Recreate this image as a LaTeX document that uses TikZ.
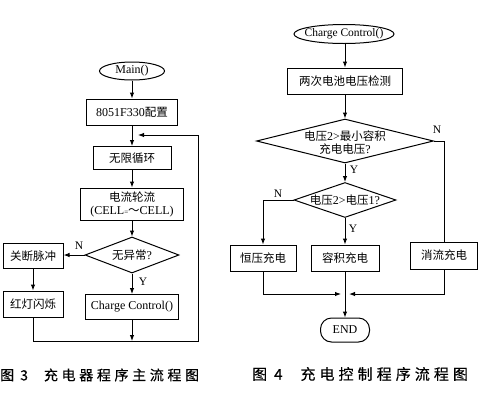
\documentclass[tikz,border=0pt]{standalone}
\usepackage{fontspec}
\setmainfont{Liberation Serif}
\newfontfamily\cjk{Noto Sans CJK SC}
\newfontfamily\capa[LetterSpace=26,FakeBold=0.4]{Noto Sans CJK SC}
\newfontfamily\capb[LetterSpace=27,FakeBold=0.4]{Noto Sans CJK SC}
\usetikzlibrary{shapes.geometric,arrows.meta}
\tikzset{
  box/.style={draw, rectangle, line width=1pt, inner sep=1pt, font=\fontsize{12}{14}\selectfont},
  dia/.style={draw, diamond, line width=1pt, inner sep=0pt},
  term/.style={draw, ellipse, line width=1pt, inner sep=0pt},
  endbox/.style={draw, rectangle, rounded corners=11pt, line width=1pt, inner sep=0pt, font=\fontsize{12}{14}\selectfont},
  lbl/.style={font=\fontsize{12}{14}\selectfont, inner sep=0pt},
  lab/.style={font=\fontsize{11.5}{12}\selectfont, inner sep=0pt},
  arr/.style={line width=1pt, -{Latex[length=6pt,width=4.5pt]}},
  ln/.style={line width=1pt},
  captext/.style={inner sep=0pt, anchor=west}
}
\newcommand\ck[1]{{\cjk\fontsize{11.5}{13}\selectfont #1}}
\begin{document}
\begin{tikzpicture}[x=1pt,y=-1pt]
\useasboundingbox (0,0) rectangle (500,410);
\fill[white] (0,0) rectangle (500,410);

% ---------- left flowchart ----------
\node[term, minimum width=65pt, minimum height=18pt, label={[lbl]center:Main()}] (main) at (132,71) {};
\node[box, minimum width=91pt, minimum height=26pt] (cfg) at (132,112) {8051F330\ck{配置}};
\node[box, minimum width=78pt, minimum height=23pt] (loop) at (132,158) {\ck{无限循环}};
\node[box, minimum width=103pt, minimum height=32pt, align=center] (curr) at (132,204) {\ck{电流轮流}\\[-1pt](CELL{\fontsize{7}{7}\selectfont =}\ck{～}CELL)};
\node[dia, minimum width=94pt, minimum height=36pt, label={[lbl]center:\ck{无异常}?}] (d0) at (132,255) {};
\node[box, minimum width=60pt, minimum height=25pt] (off) at (33,256) {\ck{关断脉冲}};
\node[box, minimum width=60pt, minimum height=26pt] (red) at (33,304) {\ck{红灯闪烁}};
\node[box, minimum width=93pt, minimum height=25pt] (cc) at (132,307) {Charge Control()};

\coordinate (j1) at (138,135);
\coordinate (br) at (198,341);
\coordinate (j2) at (132,341);

\draw[arr] (main) -- (cfg);
\draw[arr] (cfg) -- (loop);
\draw[arr] (loop) -- (curr);
\draw[arr] (curr) -- (d0);
\draw[arr] (d0.west) -- (d0.west -| off.east);
\node[lab] (n1) at (79,246) {N};
\draw[arr] (d0) -- (cc);
\node[lab] (y1) at (143,282) {Y};
\draw[arr] (off) -- (red);
\draw[arr] (red.south) |- (br) |- (j1);
\draw[arr] (cc.south) -- (j2);

\node[captext] (c3) at (0,375) {\fontsize{14}{16}\selectfont\capa 图\hspace{6pt}3\hspace{16pt}充电器程序主流程图};

% ---------- right flowchart ----------
\node[term, minimum width=100pt, minimum height=19pt, label={[lbl,font=\fontsize{11.5}{13}\selectfont]center:Charge Control()}] (cc2) at (344,34) {};
\node[box, minimum width=115pt, minimum height=26pt] (det) at (345,81) {\ck{两次电池电压检测}};
\node[dia, minimum width=177pt, minimum height=44pt, label={[lbl,align=center,yshift=-2pt]center:\ck{电压}2>\ck{最小容积}\\[-1pt]\ck{充电电压}?}] (d1) at (345,141) {};
\node[dia, minimum width=102pt, minimum height=35pt, label={[lbl]center:\ck{电压}2>\ck{电压}1?}] (d2) at (345,200) {};
\node[box, minimum width=66pt, minimum height=26pt] (hy) at (263,258) {\ck{恒压充电}};
\node[box, minimum width=68pt, minimum height=26pt] (rj) at (345,258) {\ck{容积充电}};
\node[box, minimum width=67pt, minimum height=27pt] (xl) at (444,255.5) {\ck{消流充电}};
\node[endbox, minimum width=49pt, minimum height=24pt] (end) at (345,330) {END};

\coordinate (ml) at (341,294);
\coordinate (mr) at (349,294);

\draw[arr] (cc2.south -| det.north) -- (det);
\draw[arr] (det) -- (d1);
\draw[arr] (d1) -- (d2);
\node[lab] (y2) at (354,170) {Y};
\draw[arr] (d2) -- (rj);
\node[lab] (y3) at (353,229) {Y};
\draw[arr] (d2.west) -| (hy.north);
\node[lab] (n2) at (278,194) {N};
\draw[ln] (d1.east) -| (xl.north);
\node[lab] (n3) at (437,130) {N};
\draw[arr] (hy.south) |- (ml);
\draw[arr] (xl.south) |- (mr);
\draw[arr] (rj.south) -- (end.north);

\node[captext] (c4) at (252,374) {\fontsize{15}{17}\selectfont\capb 图\hspace{7pt}4\hspace{18pt}充电控制程序流程图};
\end{tikzpicture}
\end{document}
